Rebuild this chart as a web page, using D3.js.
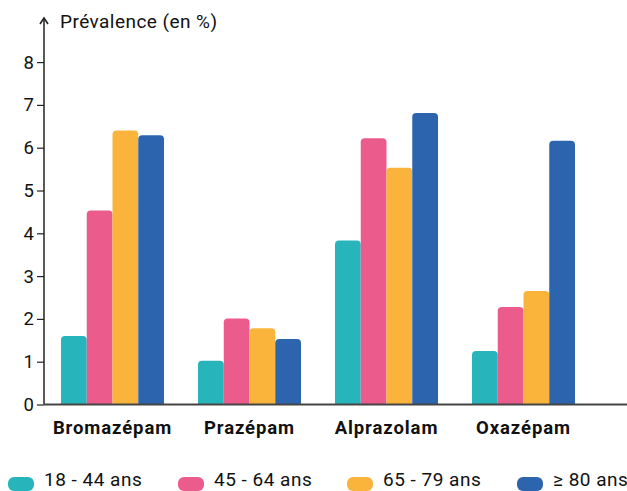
<!DOCTYPE html>
<html><head><meta charset="utf-8">
<script src="https://cdn.jsdelivr.net/npm/d3@7"></script>
<style>body{margin:0;background:#fff}svg{display:block}text{font-family:Roboto,"DejaVu Sans",sans-serif;fill:#111}</style>
</head><body>
<svg id="c" width="627" height="491"></svg>
<script>
const categories = ["Bromazépam","Prazépam","Alprazolam","Oxazépam"];
const seriesNames = ["18 - 44 ans","45 - 64 ans","65 - 79 ans","≥ 80 ans"];
const s1844 = [1.6, 1.02, 3.83, 1.25];
const s4564 = [4.53, 2.01, 6.22, 2.28];
const s6579 = [6.4, 1.78, 5.53, 2.65];
const s80 = [6.29, 1.53, 6.81, 6.16];
const yTicks = [0,1,2,3,4,5,6,7,8];
const colors = ["#27b5bb","#eb5b8c","#fbb43b","#2d64ae"];
const series = [s1844, s4564, s6579, s80];

const svg = d3.select("#c");
const x0 = 44;
const x = d3.scaleBand().domain(categories).range([x0, 592]).paddingInner(0.248).paddingOuter(0.124);
const xs = d3.scaleBand().domain(d3.range(4)).range([0, x.bandwidth()]);
const y = d3.scaleLinear().domain([0, 8]).range([404.5, 62.1]);

function barPath(x1, w, yt, yb, r) {
  r = Math.min(r, (yb - yt), w/2);
  return `M${x1},${yb}V${yt+r}Q${x1},${yt} ${x1+r},${yt}H${x1+w-r}Q${x1+w},${yt} ${x1+w},${yt+r}V${yb}Z`;
}
const data = [];
categories.forEach((c, i) => series.forEach((s, j) => data.push({c, j, v: s[i]})));
svg.append("g").selectAll("path").data(data).join("path")
  .attr("d", d => barPath(x(d.c) + xs(d.j), xs.bandwidth(), y(d.v), y(0), 4))
  .attr("fill", d => colors[d.j]);

// y axis
const yAxis = svg.append("g").attr("transform", `translate(${x0},0)`)
  .call(d3.axisLeft(y).tickValues(yTicks).tickSize(7).tickPadding(3).tickFormat(d3.format("d")));
yAxis.select(".domain").remove();
yAxis.selectAll(".tick line").attr("stroke", "#222").attr("stroke-width", 1.2);
yAxis.selectAll(".tick text").style("font-size", "18.5px").attr("fill", "#111").style("font-family", "Roboto, sans-serif");
svg.append("line").attr("x1", x0).attr("x2", x0).attr("y1", 19).attr("y2", y(0)).attr("stroke", "#222").attr("stroke-width", 1.5);
svg.append("path").attr("d", `M${x0-4},${24}L${x0},${18}L${x0+4},${24}`).attr("fill", "none").attr("stroke", "#222").attr("stroke-width", 1.6);
svg.append("text").attr("x", 60).attr("y", 28).style("font-size", "19px").style("letter-spacing", "0.45px").text("Prévalence (en %)");

// x axis
const xAxis = svg.append("g").attr("transform", `translate(0,${y(0)})`)
  .call(d3.axisBottom(x).tickSize(0).tickPadding(16.5));
xAxis.select(".domain").attr("d", `M${x0},0H627`).attr("stroke", "#444").attr("stroke-width", 1.8);
xAxis.selectAll(".tick text").style("font-size", "18.5px").style("font-weight", "bold").style("letter-spacing", "0.9px").attr("fill", "#111").style("font-family", "Roboto, sans-serif");

// legend
const legX = [8, 178, 347, 517];
const lg = svg.append("g").selectAll("g").data(seriesNames).join("g")
  .attr("transform", (d, i) => `translate(${legX[i]},0)`);
lg.append("rect").attr("x", 0).attr("y", 477).attr("width", 26).attr("height", 14).attr("rx", 6).attr("fill", (d, i) => colors[i]);
lg.append("text").attr("x", 36).attr("y", 486).style("font-size", "19px").style("letter-spacing", "0.5px").text(d => d);
</script>
</body></html>
